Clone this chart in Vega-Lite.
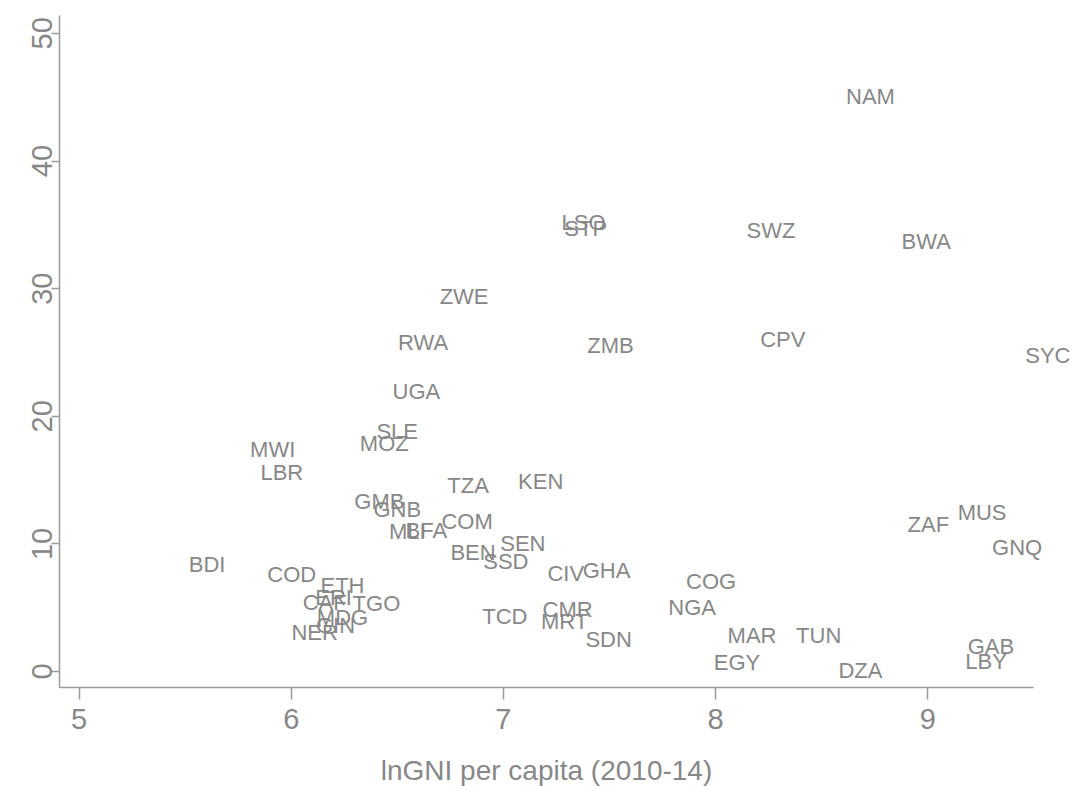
{
  "$schema": "https://vega.github.io/schema/vega-lite/v6.json",
  "width": 974,
  "height": 672,
  "autosize": {"type": "none"},
  "padding": {"left": 59, "top": 15, "right": 42, "bottom": 99},
  "background": "white",
  "config": {"view": {"stroke": null}, "font": "Liberation Sans"},
  "data": {
    "values": [
      {"iso": "NAM", "lngni": 8.732, "y": 44.98},
      {"iso": "LSO", "lngni": 7.380, "y": 35.11},
      {"iso": "STP", "lngni": 7.390, "y": 34.64},
      {"iso": "SWZ", "lngni": 8.263, "y": 34.48},
      {"iso": "BWA", "lngni": 8.995, "y": 33.62},
      {"iso": "ZWE", "lngni": 6.817, "y": 29.31},
      {"iso": "RWA", "lngni": 6.624, "y": 25.71},
      {"iso": "ZMB", "lngni": 7.507, "y": 25.47},
      {"iso": "CPV", "lngni": 8.319, "y": 25.94},
      {"iso": "SYC", "lngni": 9.568, "y": 24.69},
      {"iso": "UGA", "lngni": 6.592, "y": 21.86},
      {"iso": "SLE", "lngni": 6.502, "y": 18.73},
      {"iso": "MOZ", "lngni": 6.441, "y": 17.79},
      {"iso": "MWI", "lngni": 5.915, "y": 17.32},
      {"iso": "LBR", "lngni": 5.958, "y": 15.52},
      {"iso": "TZA", "lngni": 6.836, "y": 14.50},
      {"iso": "KEN", "lngni": 7.178, "y": 14.81},
      {"iso": "GMB", "lngni": 6.418, "y": 13.25},
      {"iso": "GNB", "lngni": 6.502, "y": 12.62},
      {"iso": "COM", "lngni": 6.831, "y": 11.68},
      {"iso": "MLI", "lngni": 6.549, "y": 10.90},
      {"iso": "BFA", "lngni": 6.639, "y": 10.97},
      {"iso": "MUS", "lngni": 9.258, "y": 12.38},
      {"iso": "ZAF", "lngni": 9.005, "y": 11.44},
      {"iso": "GNQ", "lngni": 9.423, "y": 9.64},
      {"iso": "BDI", "lngni": 5.606, "y": 8.31},
      {"iso": "BEN", "lngni": 6.859, "y": 9.25},
      {"iso": "SEN", "lngni": 7.094, "y": 9.95},
      {"iso": "SSD", "lngni": 7.014, "y": 8.54},
      {"iso": "COD", "lngni": 6.005, "y": 7.52},
      {"iso": "CIV", "lngni": 7.296, "y": 7.60},
      {"iso": "GHA", "lngni": 7.488, "y": 7.84},
      {"iso": "ETH", "lngni": 6.244, "y": 6.66},
      {"iso": "COG", "lngni": 7.981, "y": 6.97},
      {"iso": "CAF", "lngni": 6.160, "y": 5.33},
      {"iso": "ERI", "lngni": 6.202, "y": 5.72},
      {"iso": "TGO", "lngni": 6.404, "y": 5.25},
      {"iso": "NGA", "lngni": 7.892, "y": 4.94},
      {"iso": "TCD", "lngni": 7.009, "y": 4.23},
      {"iso": "CMR", "lngni": 7.305, "y": 4.78},
      {"iso": "MRT", "lngni": 7.291, "y": 3.84},
      {"iso": "MDG", "lngni": 6.244, "y": 4.16},
      {"iso": "GIN", "lngni": 6.211, "y": 3.53},
      {"iso": "NER", "lngni": 6.113, "y": 3.00},
      {"iso": "SDN", "lngni": 7.498, "y": 2.43},
      {"iso": "MAR", "lngni": 8.174, "y": 2.74},
      {"iso": "TUN", "lngni": 8.488, "y": 2.74},
      {"iso": "EGY", "lngni": 8.103, "y": 0.63},
      {"iso": "DZA", "lngni": 8.685, "y": 0.0},
      {"iso": "GAB", "lngni": 9.300, "y": 1.88},
      {"iso": "LBY", "lngni": 9.277, "y": 0.71}
    ]
  },
  "mark": {
    "type": "text",
    "fontSize": 22,
    "font": "Liberation Sans",
    "color": "#878787",
    "align": "center",
    "baseline": "middle",
    "clip": false
  },
  "encoding": {
    "x": {
      "field": "lngni",
      "type": "quantitative",
      "scale": {"domain": [4.908, 9.498], "nice": false, "zero": false},
      "axis": {
        "title": "lnGNI per capita (2010-14)",
        "values": [5, 6, 7, 8, 9],
        "grid": false,
        "domainColor": "#9a9a9a",
        "domainWidth": 1.5,
        "tickColor": "#9a9a9a",
        "tickWidth": 1.5,
        "tickSize": 12,
        "labelFontSize": 29,
        "labelColor": "#878787",
        "labelFont": "Liberation Sans Narrow, Liberation Sans",
        "labelPadding": 6,
        "titleFontSize": 28,
        "titleFontWeight": "normal",
        "titleColor": "#878787",
        "titleFont": "Liberation Sans",
        "titlePadding": 23
      }
    },
    "y": {
      "field": "y",
      "type": "quantitative",
      "scale": {"domain": [-1.25, 51.4], "nice": false, "zero": false},
      "axis": {
        "title": null,
        "values": [0, 10, 20, 30, 40, 50],
        "grid": false,
        "domainColor": "#9a9a9a",
        "domainWidth": 1.5,
        "tickColor": "#9a9a9a",
        "tickWidth": 1.5,
        "tickSize": 8,
        "labelFontSize": 29,
        "labelColor": "#878787",
        "labelFont": "Liberation Sans Narrow, Liberation Sans",
        "labelAngle": -90,
        "labelAlign": "center",
        "labelBaseline": "alphabetic",
        "labelPadding": 0
      }
    },
    "text": {"field": "iso", "type": "nominal"}
  }
}
